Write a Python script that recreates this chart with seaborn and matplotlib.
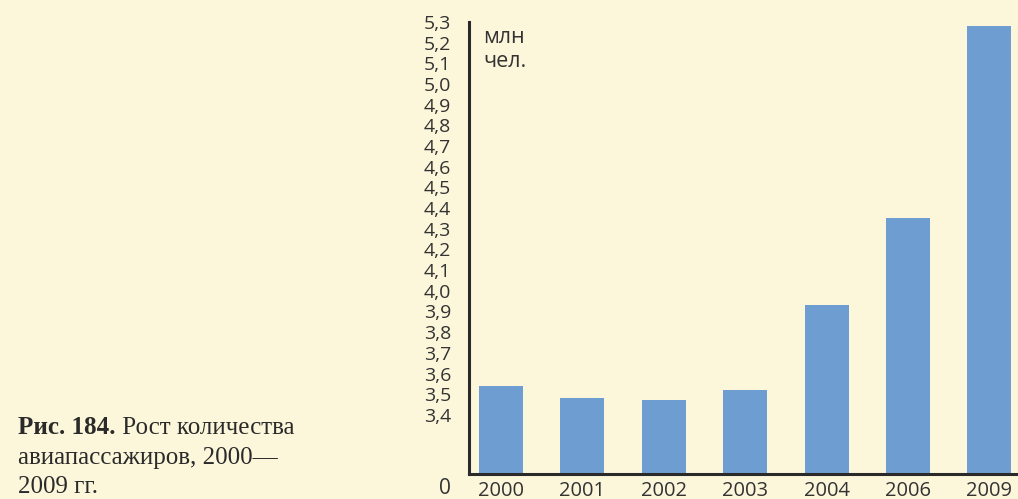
import numpy as np
import matplotlib
matplotlib.use('Agg')
import matplotlib.pyplot as plt
import matplotlib.transforms as mtransforms
import seaborn as sns

# data
years = ['2000', '2001', '2002', '2003', '2004', '2006', '2009']
passengers = [3.54, 3.48, 3.47, 3.52, 3.93, 4.35, 5.28]  # млн чел.
ytick_values = [0] + [round(3.4 + 0.1 * i, 1) for i in range(20)]
ytick_labels = ['0' if t == 0 else f'{t:.1f}'.replace('.', ',') for t in ytick_values]

sns.set_style('ticks')
plt.rcParams['font.family'] = ['Open Sans', 'DejaVu Sans']

paper = '#fcf6da'
bar_color = '#6e9ed1'
ink = '#333333'

# broken axis: 0..3.4 squeezed into a short gap, linear above 3.4
BREAK = 3.4
GAP = 0.286

def fwd(v):
    v = np.asarray(v, dtype=float)
    return np.where(v < BREAK, v / BREAK * GAP, GAP + v - BREAK)

def inv(u):
    u = np.asarray(u, dtype=float)
    return np.where(u < GAP, u / GAP * BREAK, u - GAP + BREAK)

fig = plt.figure(figsize=(10.18, 4.99), dpi=100)
fig.patch.set_facecolor(paper)
ax = fig.add_axes([469 / 1018, 25 / 499, 1 - 469 / 1018, (474 - 22) / 499])
ax.set_facecolor(paper)

sns.barplot(x=years, y=passengers, color=bar_color, saturation=1, width=0.54,
            linewidth=0, ax=ax)

ax.set_yscale('function', functions=(fwd, inv))
ax.set_ylim(0, 5.3)
ax.set_xlim(-0.39, 6.35)
ax.set_yticks(ytick_values)
ax.set_yticklabels(ytick_labels)
ax.yaxis.set_minor_locator(matplotlib.ticker.NullLocator())
ax.tick_params(axis='y', length=0, pad=13, labelsize=14, labelcolor=ink)
ax.tick_params(axis='x', length=0, pad=5, labelsize=14.5, labelcolor=ink)
zero_lbl = ax.get_yticklabels()[0]
zero_lbl.set_fontsize(15)
zero_lbl.set_transform(zero_lbl.get_transform() +
                       mtransforms.ScaledTranslation(0, -12 / 100, fig.dpi_scale_trans))
ax.set_xlabel('')
ax.set_ylabel('')

for side in ['top', 'right']:
    ax.spines[side].set_visible(False)
for side in ['left', 'bottom']:
    ax.spines[side].set_linewidth(2.2)
    ax.spines[side].set_color('#2a2a2a')

ax.text(0.026, 0.99, 'млн\nчел.', transform=ax.transAxes, ha='left', va='top',
        fontsize=15.5, color=ink, linespacing=1.2)

# caption
serif = ['Liberation Serif', 'DejaVu Serif']
cap_size = 18
cap1 = fig.text(18 / 1018, 1 - 428 / 499, 'Рис. 184.', family=serif, fontweight='bold',
                fontsize=cap_size, color='#2a2a2a', va='center', ha='left')
fig.canvas.draw()
ax.annotate(' Рост количества', xy=(1, 0), xycoords=cap1, va='bottom', ha='left',
            family=serif, fontsize=cap_size, color='#2a2a2a', annotation_clip=False)
fig.text(18 / 1018, 1 - 458 / 499, 'авиапассажиров, 2000—', family=serif,
         fontsize=cap_size, color='#2a2a2a', va='center', ha='left')
fig.text(18 / 1018, 1 - 487 / 499, '2009 гг.', family=serif,
         fontsize=cap_size, color='#2a2a2a', va='center', ha='left')

plt.savefig('out.png', dpi=100, facecolor=paper)
